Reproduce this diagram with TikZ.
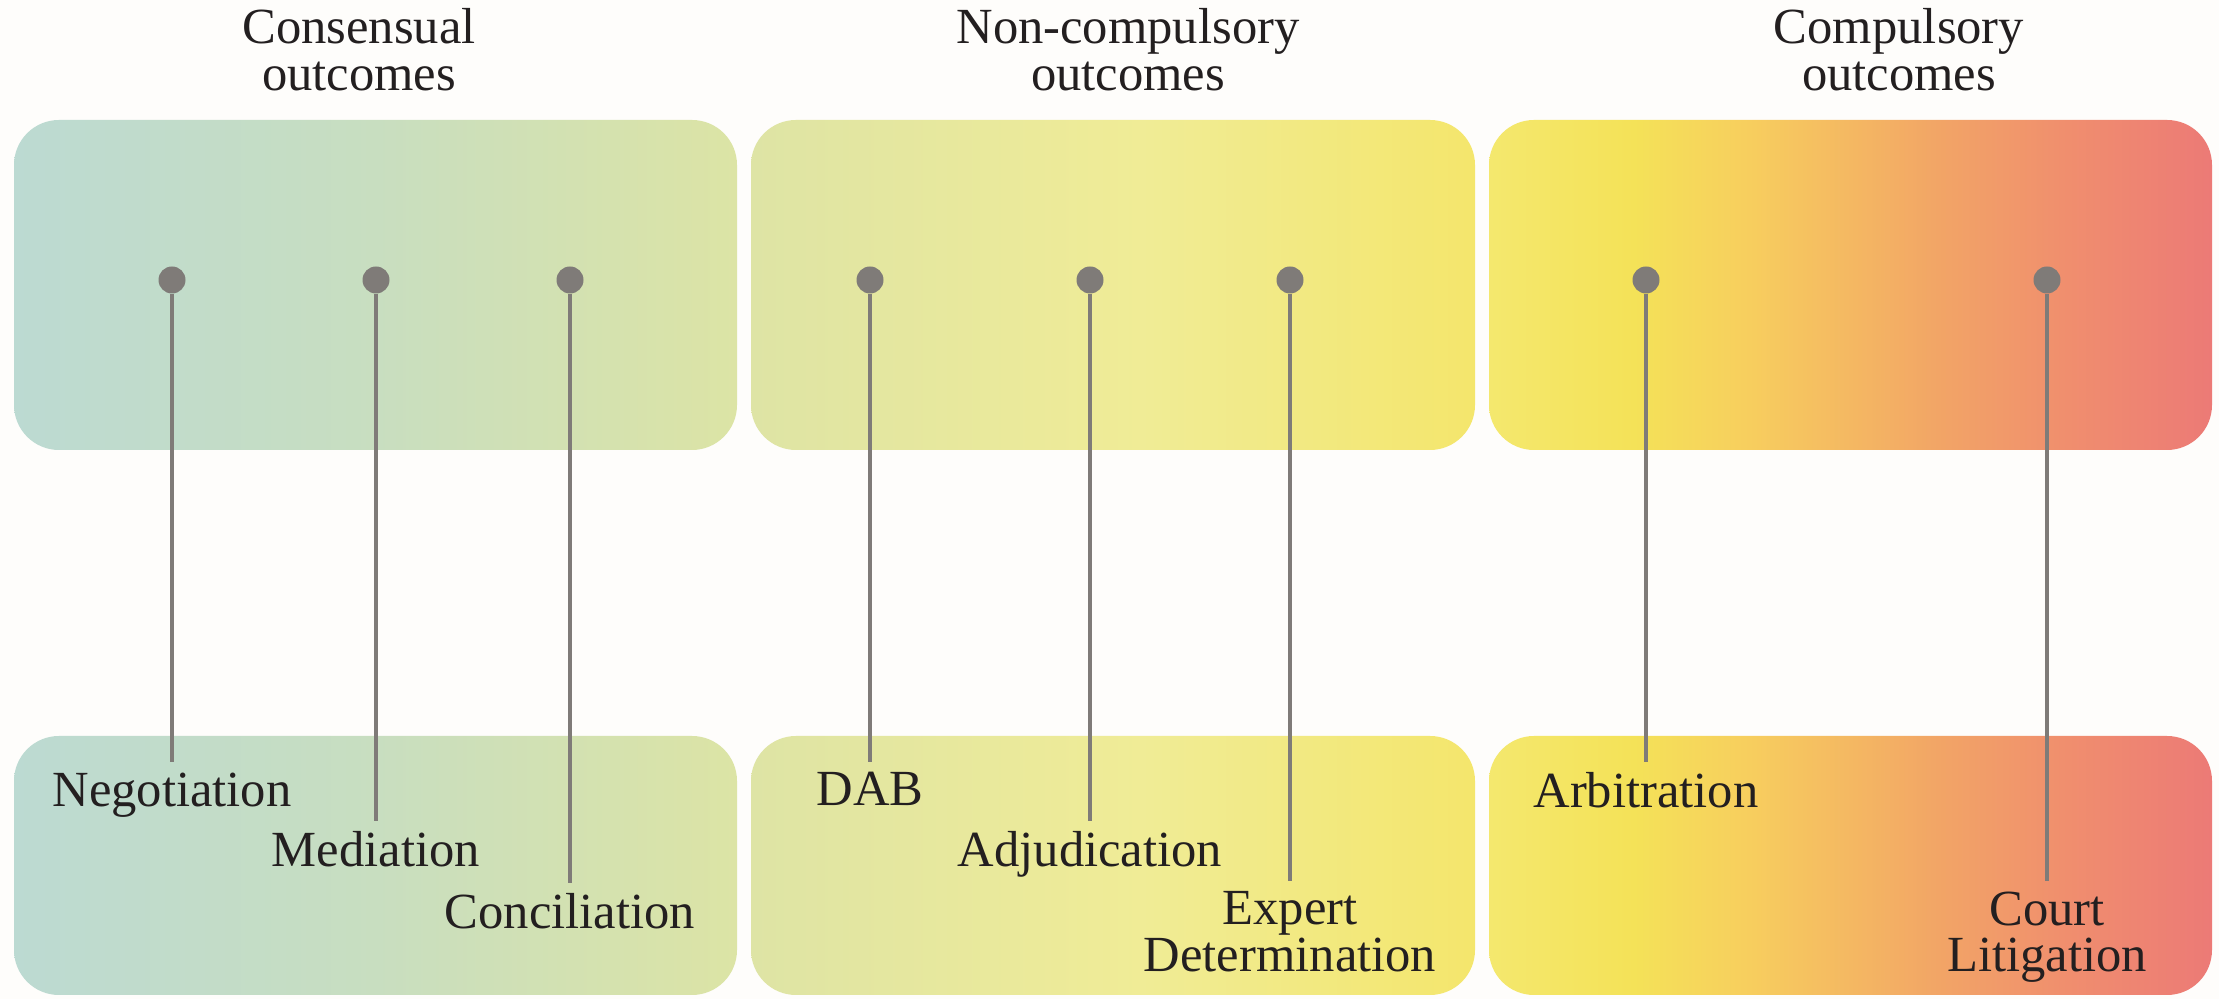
\documentclass[tikz,border=0pt]{standalone}
\usepackage{fontspec}
\setmainfont{Liberation Serif}
\definecolor{bgc}{RGB}{254,253,251}
\definecolor{txtc}{RGB}{35,31,32}
\definecolor{dotc}{RGB}{127,123,120}
\definecolor{aL}{RGB}{188,218,210}
\definecolor{aM}{RGB}{200,222,192}
\definecolor{aR}{RGB}{220,228,165}
\definecolor{bL}{RGB}{222,228,165}
\definecolor{bM}{RGB}{240,236,150}
\definecolor{bR}{RGB}{244,230,108}
\definecolor{cA}{RGB}{244,232,110}
\definecolor{cB}{RGB}{244,226,88}
\definecolor{cC}{RGB}{247,206,94}
\definecolor{cD}{RGB}{244,184,98}
\definecolor{cE}{RGB}{242,165,102}
\definecolor{cF}{RGB}{240,142,110}
\definecolor{cG}{RGB}{236,122,118}
\pgfdeclarehorizontalshading{shA}{100bp}{color(0bp)=(aL); color(25bp)=(aL); color(50bp)=(aM); color(75bp)=(aR); color(100bp)=(aR)}
\pgfdeclarehorizontalshading{shB}{100bp}{color(0bp)=(bL); color(25bp)=(bL); color(52bp)=(bM); color(75bp)=(bR); color(100bp)=(bR)}
\pgfdeclarehorizontalshading{shC}{100bp}{color(0bp)=(cA); color(25bp)=(cA); color(35bp)=(cB); color(43bp)=(cC); color(50bp)=(cD); color(56bp)=(cE); color(65bp)=(cF); color(75bp)=(cG); color(100bp)=(cG)}
\tikzset{
  panel/.style={rounded corners=0.45cm},
  dot/.style={circle, fill=dotc, inner sep=0pt, minimum size=0.27cm},
  conn/.style={draw=dotc, line width=0.9pt},
  lab/.style={anchor=north, inner xsep=0pt, inner ysep=2.8pt, text=txtc, align=center,
    font={\fontsize{14.4}{13.3}\selectfont\lineskiplimit=-20pt}},
  head/.style={anchor=north, inner sep=0pt, text=txtc, align=center,
    font={\fontsize{14.4}{13.3}\selectfont\lineskiplimit=-20pt}}
}
\begin{document}
\begin{tikzpicture}[x=1cm,y=1cm]
\fill[bgc] (0,0) rectangle (22.19,9.99);
\useasboundingbox (0,0) rectangle (22.19,9.99);
% panels
\shade[panel, shading=shA] (0.14,5.49) rectangle (7.37,8.79);
\shade[panel, shading=shB] (7.51,5.49) rectangle (14.75,8.79);
\shade[panel, shading=shC] (14.89,5.49) rectangle (22.12,8.79);
\shade[panel, shading=shA] (0.14,0.04) rectangle (7.37,2.63);
\shade[panel, shading=shB] (7.51,0.04) rectangle (14.75,2.63);
\shade[panel, shading=shC] (14.89,0.04) rectangle (22.12,2.63);
% headings
\node[head] (h1) at (3.59,9.91) {Consensual\\outcomes};
\node[head] (h2) at (11.28,9.91) {Non-compulsory\\outcomes};
\node[head] (h3) at (18.99,9.91) {Compulsory\\outcomes};
% labels
\node[lab] (l1) at (1.72,2.37) {Negotiation};
\node[lab] (l2) at (3.76,1.78) {Mediation};
\node[lab] (l3) at (5.70,1.16) {Conciliation};
\node[lab] (l4) at (8.70,2.37) {DAB};
\node[lab] (l5) at (10.90,1.78) {Adjudication};
\node[lab] (l6) at (12.90,1.18) {Expert\\Determination};
\node[lab] (l7) at (16.46,2.37) {Arbitration};
\node[lab] (l8) at (20.47,1.18) {Court\\Litigation};
% dots
\node[dot] (d1) at (1.72,7.19) {};
\node[dot] (d2) at (3.76,7.19) {};
\node[dot] (d3) at (5.70,7.19) {};
\node[dot] (d4) at (8.70,7.19) {};
\node[dot] (d5) at (10.90,7.19) {};
\node[dot] (d6) at (12.90,7.19) {};
\node[dot] (d7) at (16.46,7.19) {};
\node[dot] (d8) at (20.47,7.19) {};
% connectors
\foreach \i in {1,...,8}{\draw[conn] (d\i.south) -- (l\i.north);}
\end{tikzpicture}
\end{document}
